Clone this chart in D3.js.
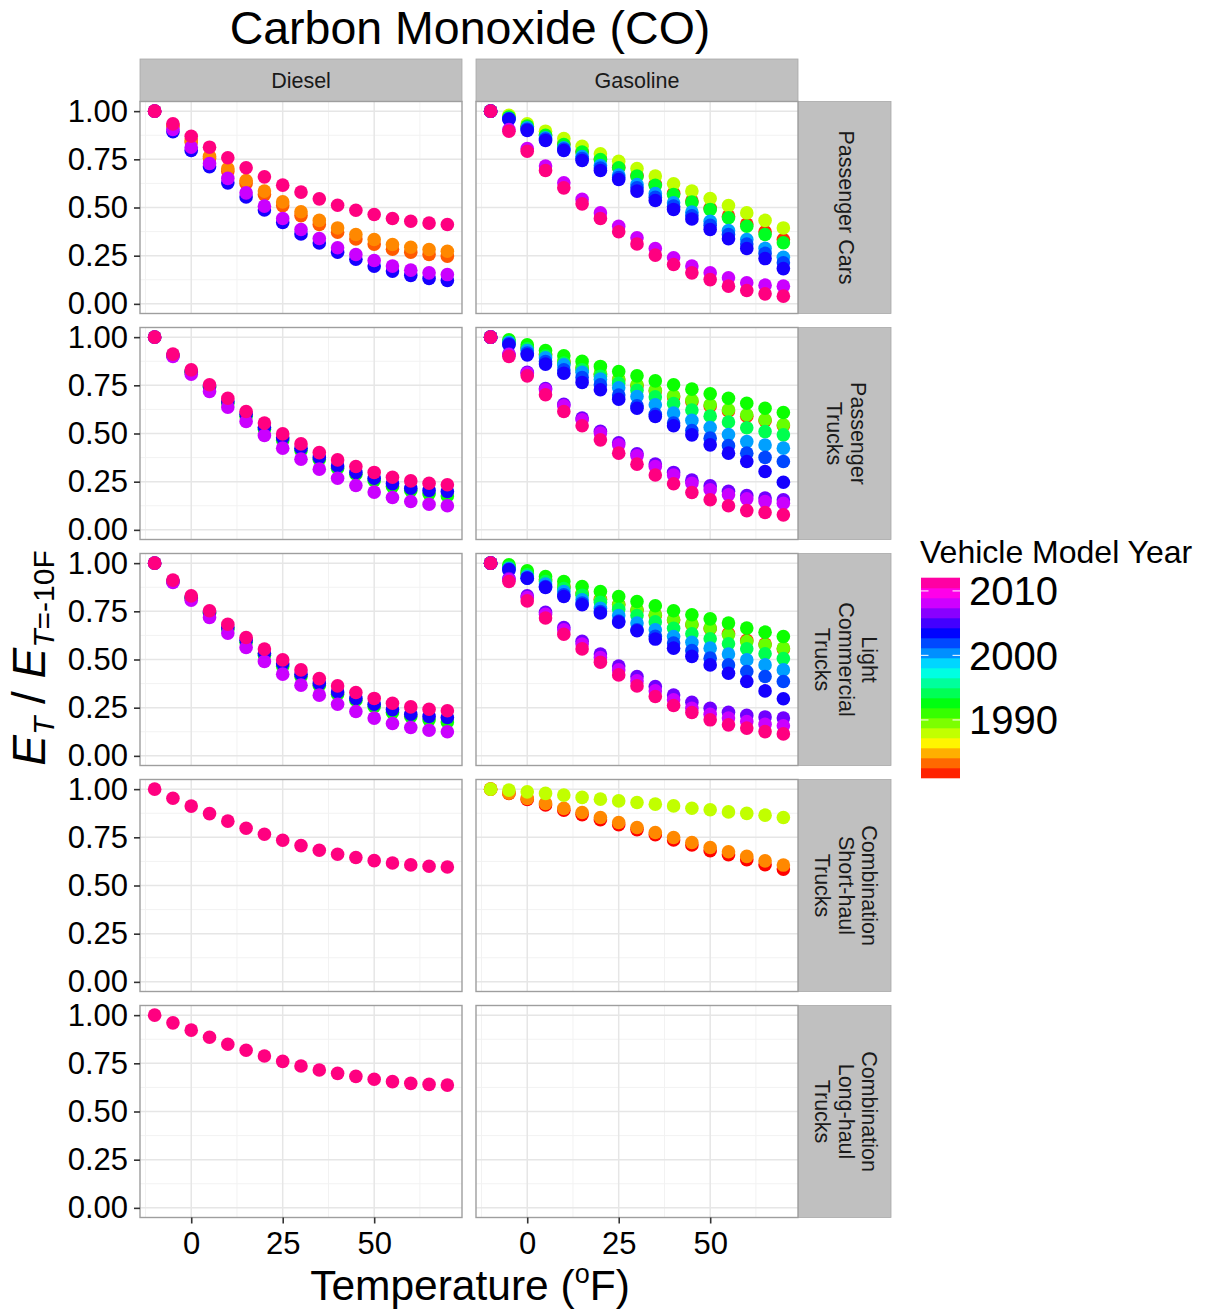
<!DOCTYPE html>
<html><head><meta charset="utf-8">
<script src="https://cdn.jsdelivr.net/npm/d3@7"></script>
<style>
body{margin:0;background:#fff}
text{font-family:"Liberation Sans",Arial,Helvetica,sans-serif}
</style>
</head><body>
<svg id="chart" width="1209" height="1310"></svg>
<script>
// ---------------- data ----------------
const temperatures = [-10,-5,0,5,10,15,20,25,30,35,40,45,50,55,60,65,70];
const fuelTypes = ["Diesel","Gasoline"];
const vehicleTypes = ["Passenger Cars","Passenger Trucks","Light Commercial Trucks","Combination Short-haul Trucks","Combination Long-haul Trucks"];
const vehicleLabelLines = [["Passenger Cars"],["Passenger","Trucks"],["Light","Commercial","Trucks"],["Combination","Short-haul","Trucks"],["Combination","Long-haul","Trucks"]];
const xTicks = [0,25,50];
const xMinorTicks = [-12.5,12.5,37.5,62.5];
const yTicks = [0,0.25,0.5,0.75,1];
const yMinorTicks = [0.125,0.375,0.625,0.875];
const yearTicks = [1990,2000,2010];
const yearRange = [1981,2012];

// each series: vehicle model year and E_T / E_T=-10F at each temperature
const dieselPassengerCars = [
  {year:1983, v:[1.000,0.920,0.840,0.755,0.688,0.625,0.567,0.510,0.458,0.412,0.372,0.337,0.310,0.284,0.268,0.256,0.247]},
  {year:1984, v:[1.000,0.925,0.848,0.766,0.702,0.640,0.585,0.529,0.478,0.433,0.394,0.360,0.334,0.308,0.294,0.282,0.273]},
  {year:2004, v:[1.000,0.893,0.796,0.712,0.628,0.555,0.487,0.422,0.363,0.316,0.268,0.232,0.196,0.170,0.148,0.132,0.121]},
  {year:2008, v:[1.000,0.905,0.813,0.728,0.651,0.576,0.507,0.443,0.386,0.339,0.291,0.256,0.225,0.196,0.175,0.161,0.152]},
  {year:2012, v:[1.000,0.934,0.870,0.813,0.758,0.706,0.659,0.616,0.580,0.545,0.512,0.486,0.464,0.443,0.429,0.419,0.412]}
];
const gasolinePassengerCars = [
  {year:1982, v:[1.000,0.968,0.922,0.876,0.830,0.790,0.752,0.708,0.666,0.620,0.574,0.534,0.496,0.455,0.414,0.374,0.334]},
  {year:1988, v:[1.000,0.979,0.934,0.896,0.858,0.818,0.779,0.740,0.702,0.663,0.623,0.585,0.547,0.510,0.472,0.433,0.394]},
  {year:1993, v:[1.000,0.969,0.922,0.874,0.827,0.788,0.749,0.706,0.663,0.615,0.567,0.528,0.490,0.447,0.403,0.360,0.317]},
  {year:2000, v:[1.000,0.962,0.913,0.862,0.810,0.764,0.718,0.668,0.619,0.572,0.524,0.476,0.429,0.381,0.334,0.288,0.242]},
  {year:2002, v:[1.000,0.960,0.906,0.855,0.803,0.754,0.705,0.656,0.602,0.553,0.507,0.457,0.408,0.360,0.310,0.262,0.213]},
  {year:2004, v:[1.000,0.957,0.900,0.848,0.796,0.744,0.692,0.645,0.585,0.536,0.490,0.440,0.386,0.338,0.287,0.235,0.183]},
  {year:2008, v:[1.000,0.905,0.806,0.715,0.628,0.542,0.472,0.403,0.343,0.287,0.239,0.196,0.161,0.135,0.109,0.097,0.092]},
  {year:2012, v:[1.000,0.896,0.792,0.692,0.602,0.519,0.443,0.374,0.311,0.253,0.204,0.161,0.126,0.092,0.069,0.052,0.040]}
];
const dieselPassengerTrucks = [
  {year:1992, v:[1.000,0.905,0.818,0.740,0.657,0.590,0.522,0.465,0.412,0.365,0.320,0.289,0.256,0.225,0.204,0.187,0.176]},
  {year:2004, v:[1.000,0.907,0.822,0.745,0.666,0.600,0.533,0.478,0.424,0.376,0.332,0.298,0.268,0.240,0.216,0.205,0.199]},
  {year:2008, v:[1.000,0.900,0.808,0.718,0.637,0.562,0.490,0.424,0.367,0.315,0.268,0.230,0.196,0.168,0.147,0.133,0.125]},
  {year:2012, v:[1.000,0.912,0.830,0.753,0.683,0.614,0.554,0.498,0.446,0.401,0.363,0.329,0.298,0.273,0.254,0.242,0.234]}
];
const gasolinePassengerTrucks = [
  {year:1982, v:[1.000,0.975,0.945,0.910,0.870,0.840,0.808,0.778,0.748,0.720,0.690,0.665,0.643,0.617,0.590,0.566,0.540]},
  {year:1990, v:[1.000,0.978,0.948,0.912,0.874,0.843,0.813,0.783,0.753,0.724,0.696,0.672,0.649,0.623,0.597,0.571,0.545]},
  {year:1992, v:[1.000,0.986,0.960,0.931,0.903,0.874,0.848,0.822,0.799,0.773,0.753,0.730,0.706,0.683,0.657,0.631,0.609]},
  {year:1994, v:[1.000,0.975,0.940,0.902,0.865,0.830,0.797,0.760,0.724,0.690,0.655,0.622,0.590,0.560,0.530,0.510,0.493]},
  {year:2000, v:[1.000,0.972,0.931,0.893,0.856,0.818,0.782,0.737,0.692,0.649,0.606,0.568,0.531,0.495,0.458,0.440,0.424]},
  {year:2002, v:[1.000,0.965,0.917,0.873,0.830,0.790,0.753,0.700,0.644,0.600,0.554,0.515,0.476,0.437,0.398,0.376,0.355]},
  {year:2004, v:[1.000,0.960,0.908,0.860,0.813,0.765,0.727,0.678,0.631,0.588,0.540,0.493,0.441,0.398,0.355,0.303,0.247]},
  {year:2006, v:[1.000,0.912,0.818,0.733,0.652,0.580,0.512,0.452,0.395,0.342,0.298,0.258,0.228,0.200,0.178,0.165,0.156]},
  {year:2008, v:[1.000,0.910,0.813,0.727,0.644,0.571,0.502,0.441,0.384,0.329,0.285,0.242,0.208,0.182,0.161,0.147,0.138]},
  {year:2012, v:[1.000,0.900,0.799,0.701,0.614,0.540,0.467,0.398,0.341,0.285,0.239,0.194,0.156,0.125,0.100,0.090,0.078]}
];
const dieselLightCommercialTrucks = [
  {year:1992, v:[1.000,0.905,0.818,0.740,0.657,0.590,0.522,0.465,0.412,0.365,0.320,0.289,0.256,0.225,0.204,0.187,0.176]},
  {year:2004, v:[1.000,0.907,0.822,0.745,0.666,0.600,0.533,0.478,0.424,0.376,0.332,0.298,0.268,0.240,0.216,0.205,0.199]},
  {year:2008, v:[1.000,0.900,0.808,0.718,0.637,0.562,0.490,0.424,0.367,0.315,0.268,0.230,0.196,0.168,0.147,0.133,0.125]},
  {year:2012, v:[1.000,0.912,0.830,0.753,0.683,0.614,0.554,0.498,0.446,0.401,0.363,0.329,0.298,0.273,0.254,0.242,0.234]}
];
const gasolineLightCommercialTrucks = [
  {year:1982, v:[1.000,0.980,0.950,0.915,0.878,0.845,0.812,0.785,0.757,0.730,0.705,0.680,0.660,0.635,0.600,0.580,0.555]},
  {year:1990, v:[1.000,0.982,0.948,0.913,0.879,0.845,0.810,0.784,0.758,0.732,0.706,0.684,0.663,0.628,0.593,0.576,0.559]},
  {year:1992, v:[1.000,0.991,0.960,0.931,0.905,0.879,0.853,0.827,0.801,0.779,0.753,0.732,0.711,0.689,0.663,0.642,0.619]},
  {year:1994, v:[1.000,0.978,0.940,0.905,0.868,0.833,0.797,0.760,0.728,0.695,0.662,0.633,0.608,0.582,0.556,0.530,0.505]},
  {year:2000, v:[1.000,0.972,0.931,0.892,0.853,0.810,0.766,0.728,0.689,0.654,0.619,0.589,0.559,0.528,0.498,0.472,0.446]},
  {year:2002, v:[1.000,0.968,0.922,0.879,0.836,0.793,0.749,0.700,0.654,0.620,0.585,0.546,0.507,0.472,0.438,0.412,0.386]},
  {year:2004, v:[1.000,0.965,0.922,0.874,0.827,0.784,0.741,0.694,0.649,0.606,0.559,0.516,0.472,0.429,0.386,0.337,0.296]},
  {year:2006, v:[1.000,0.920,0.830,0.745,0.666,0.595,0.528,0.466,0.412,0.360,0.316,0.278,0.247,0.226,0.210,0.202,0.196]},
  {year:2008, v:[1.000,0.915,0.822,0.735,0.654,0.580,0.510,0.446,0.389,0.337,0.291,0.247,0.216,0.196,0.178,0.164,0.156]},
  {year:2012, v:[1.000,0.905,0.804,0.715,0.631,0.555,0.486,0.420,0.363,0.308,0.261,0.225,0.187,0.161,0.144,0.126,0.114]}
];
const dieselShortHaul = [
  {year:2012, v:[1.000,0.953,0.912,0.873,0.834,0.797,0.766,0.735,0.707,0.683,0.662,0.645,0.629,0.617,0.607,0.600,0.596]}
];
const gasolineShortHaul = [
  {year:1981, v:[1.000,0.978,0.946,0.918,0.891,0.868,0.841,0.815,0.790,0.763,0.736,0.710,0.680,0.660,0.634,0.608,0.585]},
  {year:1984, v:[1.000,0.979,0.952,0.926,0.900,0.879,0.853,0.827,0.801,0.775,0.749,0.723,0.697,0.675,0.651,0.628,0.606]},
  {year:1988, v:[1.000,0.995,0.986,0.978,0.969,0.957,0.948,0.939,0.931,0.922,0.913,0.901,0.893,0.882,0.874,0.865,0.853]}
];
const dieselLongHaul = [
  {year:2012, v:[1.000,0.960,0.922,0.885,0.849,0.818,0.788,0.760,0.736,0.715,0.698,0.682,0.667,0.655,0.646,0.641,0.637]}
];
const gasolineLongHaul = [];

// table for the facet grid: rows = vehicle types, columns = fuel types
const panelSeries = [
  [dieselPassengerCars, gasolinePassengerCars],
  [dieselPassengerTrucks, gasolinePassengerTrucks],
  [dieselLightCommercialTrucks, gasolineLightCommercialTrucks],
  [dieselShortHaul, gasolineShortHaul],
  [dieselLongHaul, gasolineLongHaul]
];

// ---------------- layout ----------------
const svg = d3.select("#chart");
const colX = [140, 476];
const panelW = 322;
const rowY0 = 101.5, rowStep = 226, panelH = 212;
const stripTop = 59;
const rightStripX = 798, rightStripW = 93;

const hueScale = d3.scaleLinear().domain(yearRange).range([0, 330]);
const colorOf = yr => d3.hsl(hueScale(yr), 1, 0.5).toString();

// title
svg.append("text").attr("x", 470).attr("y", 44).attr("text-anchor","middle")
  .attr("font-size", 46.5).attr("fill","#000").text("Carbon Monoxide (CO)");

// column strips
fuelTypes.forEach((f, c) => {
  svg.append("rect").attr("x", colX[c]).attr("y", stripTop).attr("width", panelW).attr("height", rowY0 - stripTop)
    .attr("fill","#c0c0c0").attr("stroke","#a9a9a9").attr("stroke-width",0.8);
  svg.append("text").attr("x", colX[c] + panelW/2).attr("y", 88).attr("text-anchor","middle")
    .attr("font-size", 21.5).attr("fill","#1a1a1a").text(f);
});

vehicleTypes.forEach((vt, r) => {
  const top = rowY0 + r*rowStep;
  const y = d3.scaleLinear().domain([-0.05, 1.05]).range([top + panelH, top]);

  // row strip
  svg.append("rect").attr("x", rightStripX).attr("y", top).attr("width", rightStripW).attr("height", panelH)
    .attr("fill","#c0c0c0").attr("stroke","#a9a9a9").attr("stroke-width",0.8);
  const lines = vehicleLabelLines[r];
  const lg = svg.append("g").attr("transform", `translate(${rightStripX + rightStripW/2 + 2},${top + panelH/2}) rotate(90)`);
  lines.forEach((ln, i) => {
    lg.append("text").attr("x", 0).attr("y", (i - (lines.length-1)/2) * 23.5)
      .attr("dy","0.35em").attr("text-anchor","middle").attr("font-size", 21.5).attr("fill","#1a1a1a").text(ln);
  });

  fuelTypes.forEach((f, c) => {
    const x = d3.scaleLinear().domain([-14, 74]).range([colX[c], colX[c] + panelW]);
    const g = svg.append("g");
    g.append("rect").attr("x", colX[c]).attr("y", top).attr("width", panelW).attr("height", panelH).attr("fill","#fff");
    // minor grid
    g.selectAll(".xm").data(xMinorTicks).enter().append("line")
      .attr("x1", d => x(d)).attr("x2", d => x(d)).attr("y1", top).attr("y2", top + panelH)
      .attr("stroke","#f2f2f2").attr("stroke-width",1);
    g.selectAll(".ym").data(yMinorTicks).enter().append("line")
      .attr("y1", d => y(d)).attr("y2", d => y(d)).attr("x1", colX[c]).attr("x2", colX[c] + panelW)
      .attr("stroke","#f2f2f2").attr("stroke-width",1);
    // major grid
    g.selectAll(".xg").data(xTicks).enter().append("line")
      .attr("x1", d => x(d)).attr("x2", d => x(d)).attr("y1", top).attr("y2", top + panelH)
      .attr("stroke","#e6e6e6").attr("stroke-width",1.5);
    g.selectAll(".yg").data(yTicks).enter().append("line")
      .attr("y1", d => y(d)).attr("y2", d => y(d)).attr("x1", colX[c]).attr("x2", colX[c] + panelW)
      .attr("stroke","#e6e6e6").attr("stroke-width",1.5);

    // points, drawn in model-year order
    const series = panelSeries[r][c].slice().sort((a,b) => a.year - b.year);
    series.forEach(s => {
      g.selectAll(null).data(temperatures).enter().append("circle")
        .attr("cx", t => x(t)).attr("cy", (t, i) => y(s.v[i])).attr("r", 6.8)
        .attr("fill", colorOf(s.year));
    });

    // border
    g.append("rect").attr("x", colX[c]).attr("y", top).attr("width", panelW).attr("height", panelH)
      .attr("fill","none").attr("stroke","#9e9e9e").attr("stroke-width",1.4);

    // y axis on left column
    if (c === 0) {
      const ax = svg.append("g").attr("transform", `translate(${colX[c]},0)`)
        .call(d3.axisLeft(y).tickValues(yTicks).tickFormat(d3.format(".2f")).tickSize(6).tickPadding(6));
      ax.select(".domain").remove();
      ax.selectAll(".tick line").attr("stroke","#333").attr("stroke-width",1.6);
      ax.selectAll(".tick text").attr("font-size", 31).attr("fill","#000")
        .attr("font-family",'"Liberation Sans",Arial,sans-serif');
    }
    // x axis on bottom row
    if (r === vehicleTypes.length - 1) {
      const ax = svg.append("g").attr("transform", `translate(0,${top + panelH})`)
        .call(d3.axisBottom(x).tickValues(xTicks).tickFormat(d3.format("d")).tickSize(6).tickPadding(8));
      ax.select(".domain").remove();
      ax.selectAll(".tick line").attr("stroke","#333").attr("stroke-width",1.6);
      ax.selectAll(".tick text").attr("font-size", 31).attr("fill","#000")
        .attr("font-family",'"Liberation Sans",Arial,sans-serif');
    }
  });
});

// x axis title
const xt = svg.append("text").attr("x", 470).attr("y", 1300).attr("text-anchor","middle").attr("font-size", 42.5).attr("fill","#000");
xt.append("tspan").text("Temperature (");
xt.append("tspan").attr("font-size", 27).attr("dy", -17).text("o");
xt.append("tspan").attr("dy", 17).text("F)");

// y axis title
const yt = svg.append("text").attr("transform","translate(45,658) rotate(-90)").attr("text-anchor","middle")
  .attr("font-size", 46).attr("fill","#000");
yt.append("tspan").attr("font-style","italic").text("E");
yt.append("tspan").attr("font-style","italic").attr("font-size", 30).attr("dy", 9).text("T");
yt.append("tspan").attr("dy", -9).text(" / ");
yt.append("tspan").attr("font-style","italic").text("E");
yt.append("tspan").attr("font-style","italic").attr("font-size", 30).attr("dy", 9).text("T");
yt.append("tspan").attr("font-size", 30).text("=-10F");

// legend
const legX = 921, legW = 39;
const ly = d3.scaleLinear().domain(yearRange).range([778, 578]);
svg.append("text").attr("x", 920).attr("y", 563).attr("font-size", 32).attr("fill","#000").text("Vehicle Model Year");
const nbin = 20;
const bins = d3.range(nbin).map(i => yearRange[0] + (yearRange[1]-yearRange[0]) * i / nbin);
const binH = (yearRange[1]-yearRange[0]) / nbin;
svg.append("g").selectAll("rect").data(bins).enter().append("rect")
  .attr("x", legX).attr("width", legW)
  .attr("y", d => ly(d + binH) - 0.3).attr("height", d => ly(d) - ly(d + binH) + 0.6)
  .attr("fill", d => colorOf(d + binH/2));
yearTicks.forEach(yr => {
  svg.append("line").attr("x1", legX).attr("x2", legX + 7.5).attr("y1", ly(yr)).attr("y2", ly(yr))
    .attr("stroke","#fff").attr("stroke-width",1.2).attr("opacity",0.85);
  svg.append("line").attr("x1", legX + legW - 7.5).attr("x2", legX + legW).attr("y1", ly(yr)).attr("y2", ly(yr))
    .attr("stroke","#fff").attr("stroke-width",1.2).attr("opacity",0.85);
  svg.append("text").attr("x", 969).attr("y", ly(yr)).attr("dy","0.36em").attr("font-size", 40).attr("fill","#000").text(yr);
});
</script>
</body></html>
